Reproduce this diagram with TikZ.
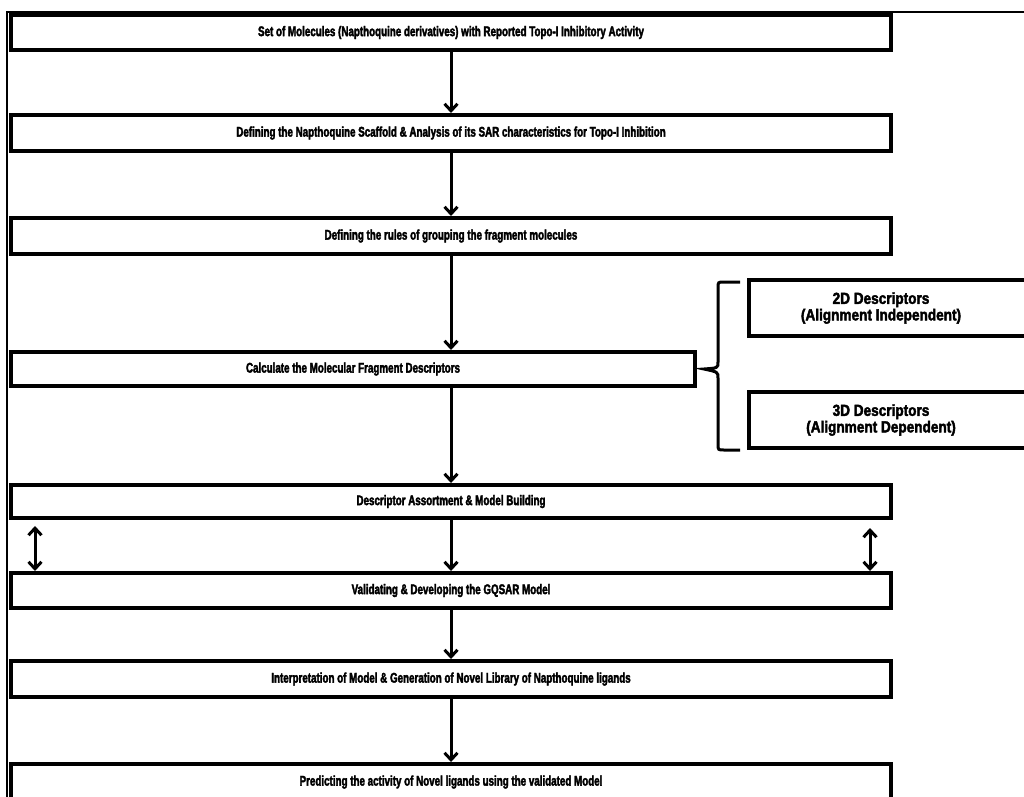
\documentclass[tikz,border=0pt]{standalone}
\usepackage{fontspec}
\setmainfont{Liberation Sans}[BoldFeatures={FakeBold=2}]
\newfontfamily\narrowfont{Liberation Sans}[FakeStretch=0.7,BoldFeatures={FakeBold=2.5}]
\newfontfamily\sidefont{Liberation Sans}[FakeStretch=0.85,BoldFeatures={FakeBold=2.5}]
\usetikzlibrary{arrows.meta,calc}
\begin{document}
\begin{tikzpicture}[x=1pt,y=-1pt,
  box/.style={draw, line width=4pt, minimum width=880pt, inner sep=0pt,
    font=\narrowfont\fontsize{14}{16}\selectfont\bfseries},
  sidebox/.style={draw, line width=4pt},
  sidetext/.style={align=center, inner sep=0pt, font=\sidefont\fontsize{16}{16.5}\selectfont\bfseries},
  arr/.style={line width=3pt, -{Straight Barb[length=7pt,width=13pt]}},
  darr/.style={line width=3pt, {Straight Barb[length=7pt,width=13pt]}-{Straight Barb[length=7pt,width=13pt]}},
  frame/.style={line width=2pt}]
\useasboundingbox (0,0) rectangle (1024,796);
\clip (0,0) rectangle (1024,796);
\fill[white] (0,0) rectangle (1024,796);

\draw[frame] (7,800) -- (7,12) -- (1030,12);

\node[box, minimum height=35pt] (b1) at (451,32.5) {Set of Molecules (Napthoquine derivatives) with Reported Topo-I Inhibitory Activity};
\node[box, minimum height=36pt] (b2) at (451,133) {Defining the Napthoquine Scaffold \& Analysis of its SAR characteristics for Topo-I Inhibition};
\node[box, minimum height=36pt] (b3) at (451,236) {Defining the rules of grouping the fragment molecules};
\node[box, minimum height=34pt, minimum width=684pt] (b4) at (353,369) {Calculate the  Molecular Fragment Descriptors};
\node[box, minimum height=33pt] (b5) at (451,501.5) {Descriptor Assortment \& Model Building};
\node[box, minimum height=35pt] (b6) at (451,590.5) {Validating \& Developing the GQSAR Model};
\node[box, minimum height=36pt] (b7) at (451,679) {Interpretation of Model \& Generation of Novel Library of Napthoquine ligands};
\node[box, minimum height=36pt] (b8) at (451,782) {Predicting the activity of Novel ligands using the validated Model};

\draw[sidebox] (749,280) rectangle (1040,336);
\node[sidetext] (d2) at (881,308) {2D Descriptors\\(Alignment Independent)};
\draw[sidebox] (749,392) rectangle (1040,448);
\node[sidetext] (d3) at (881,420) {3D Descriptors\\(Alignment Dependent)};

\coordinate (tip) at ($(b4.east)+(7,0)$);
\draw[line width=3pt] (740,282) -- (724,282) .. controls (718,282) .. (718,288)
  -- (718,362) .. controls (718,368) .. (tip) .. controls (718,372) .. (718,378)
  -- (718,444) .. controls (718,450) .. (724,450) -- (740,450);

\draw[arr] (b1.south) -- (b2.north);
\draw[arr] (b2.south) -- (b3.north);
\draw[arr] (b3.south) -- (b3.south |- b4.north);
\draw[arr] (b4.south -| b3.south) -- (b5.north);
\draw[arr] (b5.south) -- (b6.north);
\draw[arr] (b6.south) -- (b7.north);
\draw[arr] (b7.south) -- (b8.north);

\coordinate (la) at ($(b5.south west)+(26,6)$);
\draw[darr] (la) -- (la |- b6.north);
\coordinate (ra) at ($(b5.south east)+(-23,8)$);
\draw[darr] (ra) -- (ra |- b6.north);
\end{tikzpicture}
\end{document}
